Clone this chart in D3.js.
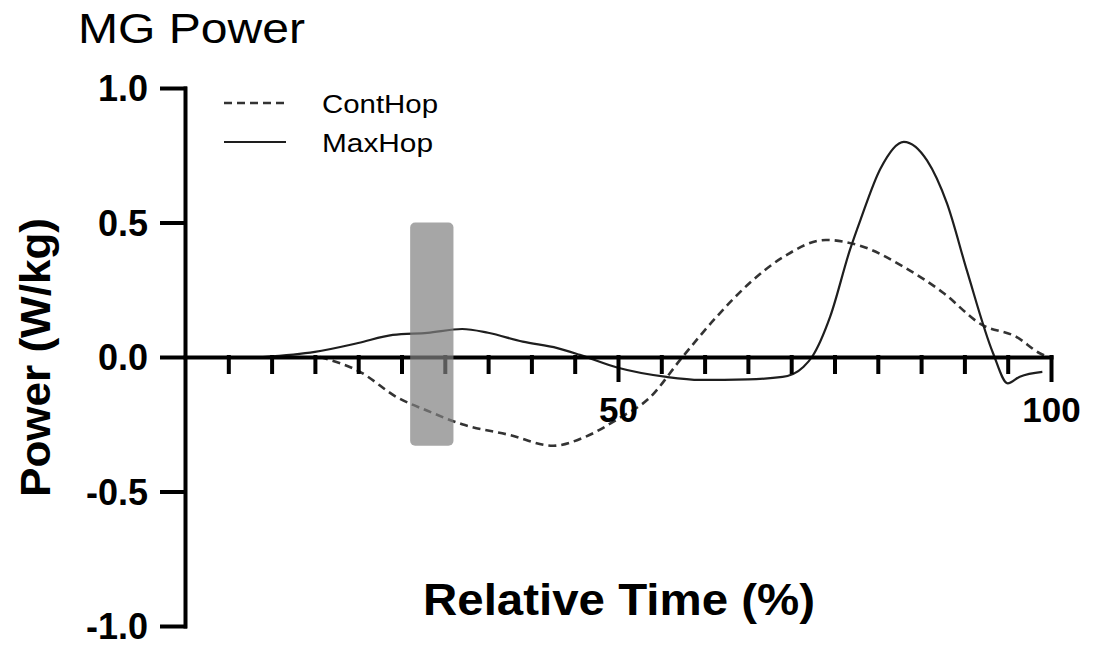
<!DOCTYPE html>
<html>
<head>
<meta charset="utf-8">
<script src="https://cdn.jsdelivr.net/npm/d3@7"></script>
<style>
  body { margin: 0; background: #fff; }
  svg { display: block; font-family: "Liberation Sans", Arial, sans-serif; }
</style>
</head>
<body>
<svg id="chart"></svg>
<script>
//------------------------------------------------------------
// Data
const contTime  = [15.6, 20.2, 24.5, 28, 32, 37.5, 42.5, 46, 50, 53.7, 57.2, 61.4, 65.2, 69, 74, 78.3, 83, 87.5, 92, 96, 98.7, 99.7];
const contPower = [0, -0.055, -0.15, -0.20, -0.25, -0.29, -0.33, -0.30, -0.23, -0.15, -0.01, 0.15, 0.275, 0.37, 0.435, 0.41, 0.335, 0.24, 0.12, 0.075, 0.014, 0];

const maxTime  = [9, 15, 20, 24, 28, 32, 35, 39, 43, 45.6, 50, 55.6, 59.5, 65, 69, 71.4, 72.4, 74.5, 76.8, 78, 80.3, 83, 85.7, 88, 90.3, 93.3, 95, 96.4, 99];
const maxPower = [0, 0.019, 0.052, 0.082, 0.09, 0.104, 0.09, 0.057, 0.033, 0.008, -0.04, -0.074, -0.085, -0.083, -0.074, -0.037, 0, 0.15, 0.4, 0.51, 0.70, 0.80, 0.73, 0.57, 0.32, 0.015, -0.098, -0.073, -0.055];

// shaded window (time %, power)
const bandTime  = [26, 31];
const bandPower = [-0.33, 0.5];

const yTicks = [-1, -0.5, 0, 0.5, 1];
const xMajorTicks = [50, 100];
const xMinorTicks = [5, 10, 15, 20, 25, 30, 35, 40, 45, 55, 60, 65, 70, 75, 80, 85, 90, 95];

const seriesNames = ["ContHop", "MaxHop"];

//------------------------------------------------------------
// Chart setup
const W = 1093, H = 646;
const svg = d3.select("#chart").attr("width", W).attr("height", H);

const x = d3.scaleLinear().domain([0, 100]).range([185, 1051]);
const y = d3.scaleLinear().domain([-1, 1]).range([626, 88]);

const cont = contTime.map((t, i) => ({ t, v: contPower[i] }));
const maxh = maxTime.map((t, i) => ({ t, v: maxPower[i] }));

// Lines
const line = d3.line()
  .curve(d3.curveMonotoneX)
  .x(d => x(d.t))
  .y(d => y(d.v));

svg.append("path")
  .datum(cont)
  .attr("fill", "none")
  .attr("stroke", "#333")
  .attr("stroke-width", 2.6)
  .attr("stroke-dasharray", "8 5")
  .attr("d", line);

svg.append("path")
  .datum(maxh)
  .attr("fill", "none")
  .attr("stroke", "#1e1e1e")
  .attr("stroke-width", 2.2)
  .attr("d", line);

//------------------------------------------------------------
// Axes
const xMinor = svg.append("g")
  .attr("transform", `translate(0,${y(0)})`)
  .call(d3.axisBottom(x).tickValues(xMinorTicks).tickSize(15).tickSizeOuter(0).tickFormat(""));
xMinor.select(".domain").remove();

const xMajor = svg.append("g")
  .attr("transform", `translate(0,${y(0)})`)
  .call(d3.axisBottom(x).tickValues(xMajorTicks).tickSize(23).tickSizeOuter(0).tickPadding(17));

// plain hyphen for negatives, as in the original figure
const yAxis = svg.append("g")
  .attr("transform", `translate(${x(0)},0)`)
  .call(d3.axisLeft(y).tickValues(yTicks).tickSize(23).tickSizeOuter(0).tickPadding(14)
    .tickFormat(d => d.toFixed(1)));

svg.selectAll(".domain, .tick line")
  .attr("stroke", "#000")
  .attr("stroke-width", 4)
  .attr("stroke-linecap", "square");

xMajor.selectAll(".tick text")
  .attr("font-size", 35)
  .attr("font-weight", "bold")
  .attr("fill", "#000");

yAxis.selectAll(".tick text")
  .attr("font-size", 36)
  .attr("font-weight", "bold")
  .attr("fill", "#000")
  .attr("dy", "0.36em");

//------------------------------------------------------------
// Shaded band (on top, semi-transparent)
svg.append("rect")
  .attr("x", x(bandTime[0]))
  .attr("y", y(bandPower[1]))
  .attr("width", x(bandTime[1]) - x(bandTime[0]))
  .attr("height", y(bandPower[0]) - y(bandPower[1]))
  .attr("rx", 5)
  .attr("fill", "#808080")
  .attr("opacity", 0.7);

//------------------------------------------------------------
// Labels
svg.append("text")
  .attr("x", 78).attr("y", 43)
  .attr("font-size", 42)
  .attr("textLength", 227).attr("lengthAdjust", "spacingAndGlyphs")
  .text("MG Power");

svg.append("text")
  .attr("x", 423).attr("y", 615)
  .attr("font-size", 44).attr("font-weight", "bold")
  .attr("textLength", 392).attr("lengthAdjust", "spacingAndGlyphs")
  .text("Relative Time (%)");

svg.append("text")
  .attr("transform", "translate(50,497) rotate(-90)")
  .attr("font-size", 42).attr("font-weight", "bold")
  .attr("textLength", 279).attr("lengthAdjust", "spacingAndGlyphs")
  .text("Power (W/kg)");

//------------------------------------------------------------
// Legend
const legend = svg.append("g");
const legendY = [103, 142];
const legendW = [116, 111];

seriesNames.forEach((name, i) => {
  legend.append("line")
    .attr("x1", 224).attr("x2", 286)
    .attr("y1", legendY[i]).attr("y2", legendY[i])
    .attr("stroke", i === 0 ? "#333" : "#1e1e1e")
    .attr("stroke-width", i === 0 ? 2.6 : 2.2)
    .attr("stroke-dasharray", i === 0 ? "8 5" : null);

  legend.append("text")
    .attr("x", 322).attr("y", legendY[i] + 10)
    .attr("font-size", 26)
    .attr("textLength", legendW[i]).attr("lengthAdjust", "spacingAndGlyphs")
    .text(name);
});
</script>
</body>
</html>
